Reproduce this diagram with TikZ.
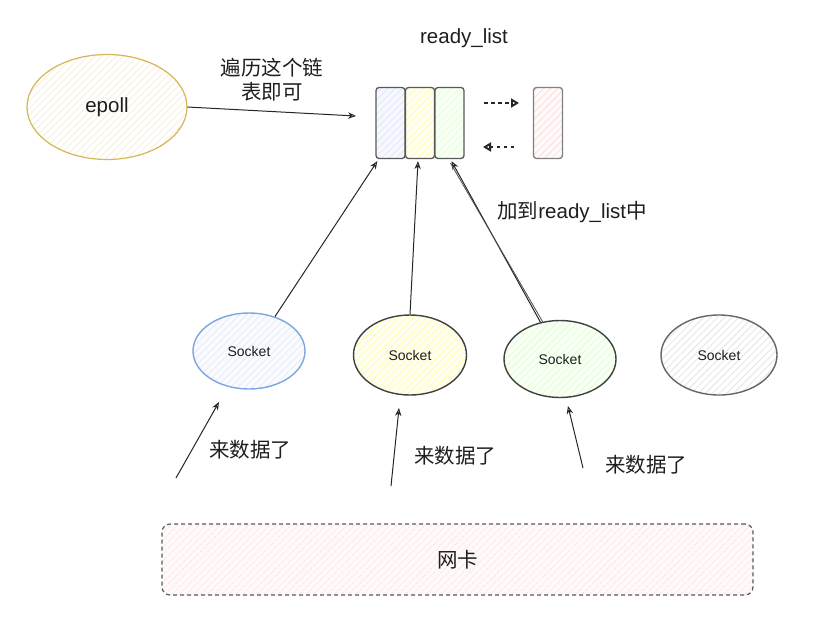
\documentclass[tikz,border=0pt]{standalone}
\usepackage{fontspec}
\setmainfont{Liberation Sans}
\newfontfamily\cjk{Noto Sans CJK SC}
\usetikzlibrary{shapes.geometric,arrows.meta,patterns.meta,calc}
\definecolor{ink}{HTML}{1E1E1E}
\definecolor{epollc}{HTML}{D6B656}
\definecolor{bluec}{HTML}{7EA6E0}
\begin{document}
\begin{tikzpicture}[x=1pt,y=-1pt,
  lbl/.style={font=\fontsize{20.5}{24}\selectfont, text=ink, inner sep=0},
  cjklbl/.style={font=\cjk\fontsize{20.5}{24}\selectfont, text=ink, inner sep=0, align=center},
  hatch/.style 2 args={preaction={fill=#1}, pattern={Lines[angle=45,distance=5pt,line width=0.8pt]}, pattern color=#2},
  cell/.style={draw=black!65, line width=1.3pt, rounded corners=3pt, minimum width=29pt, minimum height=71pt, inner sep=0},
  sock/.style={ellipse, inner sep=0, line width=1.4pt, text=ink, font=\fontsize{14}{16}\selectfont},
  arr/.style={-{Stealth[open,length=8pt,width=6.5pt]}, line width=1pt, draw=black!85},
  darr/.style={-{Triangle[open,length=8pt,width=9pt]}, line width=1.9pt, draw=black!85, dash pattern=on 3.5pt off 3.5pt},
]
\useasboundingbox (0,0) rectangle (830,625);

% epoll
\node[ellipse, draw=epollc, line width=1.2pt, hatch={white}{epollc!22}, minimum width=160pt, minimum height=105pt, inner sep=0, font=\fontsize{20.5}{24}\selectfont, text=ink] (epoll) at (107,107) {epoll};

% ready list cells
\node[lbl] (rl) at (464,38) {ready\_list};
\node[cell, hatch={blue!3}{bluec!25}] (c1) at (390.5,123) {};
\node[cell, hatch={yellow!4}{yellow!35}] (c2) at (420,123) {};
\node[cell, hatch={green!3}{green!50!yellow!18}] (c3) at (449.5,123) {};
\node[cell, draw=black!50, hatch={red!2}{red!14}] (c4) at (548,123) {};

% epoll -> list
\coordinate (eend) at (356,116);
\draw[arr] (epoll.east) -- (eend);
\node[cjklbl] (lbl1) at (272,80) {遍历这个链\\表即可};

% dashed arrows
\coordinate (d1s) at (484,103);
\coordinate (d1e) at (519,103);
\coordinate (d2s) at (514,147);
\coordinate (d2e) at (483,147);
\draw[darr] (d1s) -- (d1e);
\draw[darr] (d2s) -- (d2e);

% sockets
\node[sock, draw=bluec, hatch={blue!2}{bluec!20}, minimum width=112pt, minimum height=76pt] (s1) at (249,351) {Socket};
\node[sock, draw=black!75, hatch={yellow!5}{yellow!35}, minimum width=113pt, minimum height=80pt] (s2) at (410,355) {Socket};
\node[sock, draw=black!75, hatch={green!3}{green!50!yellow!20}, minimum width=112pt, minimum height=77pt] (s3) at (560,359) {Socket};
\node[sock, draw=black!60, hatch={white}{black!10}, minimum width=116pt, minimum height=80pt] (s4) at (719,355) {Socket};

% sockets -> cells
\draw[arr] (s1.53) -- ([xshift=2pt,yshift=-2pt]c1.south west);
\draw[arr] (s2.north) -- ([xshift=-2pt,yshift=-2pt]c2.south);
\draw[arr] (s3.118) -- ([xshift=2pt,yshift=-2pt]c3.south);
\draw[line width=0.8pt, draw=black!70] (s3.115) -- ([xshift=1pt,yshift=-4pt]c3.south);
\node[lbl] (lbl2) at (572,212) {{\cjk\fontsize{20.5}{24}\selectfont 加到}ready\_list{\cjk\fontsize{20.5}{24}\selectfont 中}};

% incoming data arrows
\coordinate (a1s) at (176,478);
\coordinate (a1e) at (219,402);
\coordinate (a2s) at (391,486);
\coordinate (a2e) at (399,408);
\coordinate (a3s) at (583,468);
\coordinate (a3e) at (568,406);
\draw[arr] (a1s) -- (a1e);
\draw[arr] (a2s) -- (a2e);
\draw[arr] (a3s) -- (a3e);
\node[cjklbl] (t1) at (250,450) {来数据了};
\node[cjklbl] (t2) at (455,456) {来数据了};
\node[cjklbl] (t3) at (646,465) {来数据了};

% network card
\node[draw=black!65, line width=1.2pt, dash pattern=on 4pt off 3pt, rounded corners=8pt, minimum width=591pt, minimum height=71pt, hatch={red!2}{red!10}, font=\cjk\fontsize{20.5}{24}\selectfont, text=ink] (nic) at (457.5,559.5) {网卡};
\end{tikzpicture}
\end{document}
